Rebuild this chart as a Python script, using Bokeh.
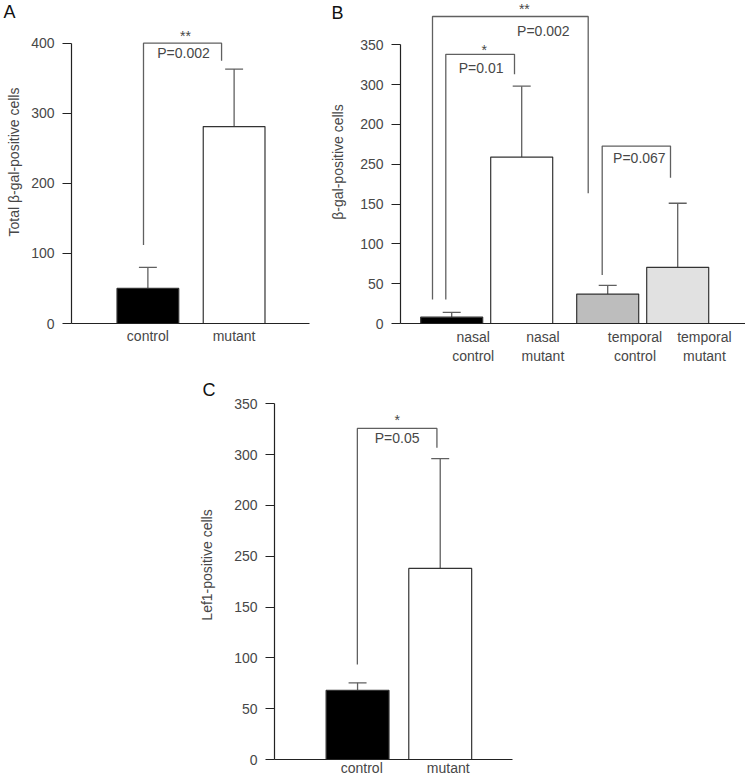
from bokeh.plotting import figure
from bokeh.models import Range1d, FixedTicker, Label, Spacer, LinearAxis
from bokeh.layouts import row, column
from bokeh.embed import file_html
from bokeh.resources import INLINE

# ---------------- data ----------------
A_CATEGORIES = ["control", "mutant"]
A_MEANS = [50, 281]
A_ERRORS = [30, 82]
A_Y_TICKS = [0, 100, 200, 300, 400]
A_Y_TICK_LABELS = ["0", "100", "200", "300", "400"]
A_Y_LABEL = "Total \u03b2-gal-positive cells"

B_CATEGORIES = ["nasal\ncontrol", "nasal\nmutant", "temporal\ncontrol", "temporal\nmutant"]
B_MEANS = [8, 209, 37, 70.5]
B_ERRORS = [6, 89, 11, 80.5]
B_Y_TICKS = [0, 50, 100, 150, 200, 250, 300, 350]
B_Y_TICK_LABELS = ["0", "50", "100", "150", "250", "200", "300", "350"]
B_Y_LABEL = "\u03b2-gal-positive cells"

C_CATEGORIES = ["control", "mutant"]
C_MEANS = [68, 188]
C_ERRORS = [7.5, 108]
C_Y_TICKS = [0, 50, 100, 150, 200, 250, 300, 350]
C_Y_TICK_LABELS = ["0", "50", "100", "150", "250", "200", "300", "350"]
C_Y_LABEL = "Lef1-positive cells"

# significance brackets: bars compared, leg bottoms, bracket top, texts and their heights
A_SIG_BARS = [(0, 1)]
A_SIG_LEGS = [(112, 375)]
A_SIG_TOP = [400]
A_SIG_STARS = ["**"]
A_SIG_P = ["P=0.002"]
A_SIG_TEXT_Y = [(410.6, 386)]

B_SIG_BARS = [(0, 2), (0, 1), (2, 3)]
B_SIG_LEGS = [(30, 163.5), (30, 313), (61, 183)]
B_SIG_TOP = [385.5, 338, 222.8]
B_SIG_STARS = ["**", "*", ""]
B_SIG_P = ["P=0.002", "P=0.01", "P=0.067"]
B_SIG_TEXT_Y = [(394.5, 366.7), (342.9, 320.7), (0, 208.1)]

C_SIG_BARS = [(0, 1)]
C_SIG_LEGS = [(93.5, 306.8)]
C_SIG_TOP = [325.8]
C_SIG_STARS = ["*"]
C_SIG_P = ["P=0.05"]
C_SIG_TEXT_Y = [(334.3, 316.4)]

# panel letters and the height (data units) of their centres
PANEL_LETTERS = ["A", "B", "C"]
LETTER_Y = [448.8, 395.6, 363.6]

# ---------------- layout / style ----------------
FONT = "Liberation Sans"
TXT = "#474747"
LINE = "#606060"
AXIS = "#222222"
EDGE = "#333333"
FS = "14px"
CAP = 18

A_FILL = ["#000000", "#ffffff"]
B_FILL = ["#000000", "#ffffff", "#bdbdbd", "#e1e1e1"]
C_FILL = ["#000000", "#ffffff"]

# x offsets (px) of category labels, bracket legs and texts relative to bars
A_LABEL_DX = [0, 0]
B_LABEL_DX = [21.5, 21.2, 27.3, 26.7]
C_LABEL_DX = [4.2, 8]
A_LEG_DX = [(-4.4, -12.6)]
A_TXT_DX = [(3, 1)]
B_LEG_DX = [(-19.2, -19.5), (-5.9, -7.2), (-5.5, -7.2)]
B_TXT_DX = [(14, 33), (4, 1), (0, 3)]
C_LEG_DX = [(-0.2, -3.3)]
C_TXT_DX = [(0, 0)]


def base_fig(width, height, borders, x_end, y_end):
    left, right, top, bottom = borders
    p = figure(width=width, height=height, x_range=Range1d(0, x_end),
               y_range=Range1d(0, y_end), output_backend="svg",
               toolbar_location=None, min_border_left=left,
               min_border_right=right, min_border_top=top,
               min_border_bottom=bottom, background_fill_color="white",
               border_fill_color="white")
    p.grid.visible = False
    p.outline_line_color = None
    return p


def style_axes(p, xs, cats, label_dx, yticks, ylabels, ylabel,
               y_label_standoff, x_label_standoff):
    ya = p.yaxis[0]
    ya.ticker = FixedTicker(ticks=yticks)
    ya.major_label_overrides = {t: l for t, l in zip(yticks, ylabels)}
    ya.bounds = (yticks[0], yticks[-1])
    ya.major_tick_out = 9
    ya.major_tick_in = 0
    ya.minor_tick_out = 0
    ya.minor_tick_in = 0
    ya.axis_line_color = AXIS
    ya.axis_line_width = 1.2
    ya.major_tick_line_color = AXIS
    ya.major_tick_line_width = 1.2
    ya.major_label_text_font = FONT
    ya.major_label_text_font_size = FS
    ya.major_label_text_color = TXT
    ya.major_label_standoff = 8
    ya.axis_label = ylabel
    ya.axis_label_text_font = FONT
    ya.axis_label_text_font_size = FS
    ya.axis_label_text_font_style = "normal"
    ya.axis_label_text_color = TXT
    ya.axis_label_standoff = y_label_standoff

    ticks = [round(x + d, 1) for x, d in zip(xs, label_dx)]
    xa = p.xaxis[0]
    xa.ticker = FixedTicker(ticks=ticks)
    xa.major_label_overrides = {t: c for t, c in zip(ticks, cats)}
    xa.major_tick_out = 0
    xa.major_tick_in = 0
    xa.minor_tick_out = 0
    xa.minor_tick_in = 0
    xa.axis_line_color = AXIS
    xa.axis_line_width = 1.2
    xa.major_label_text_font = FONT
    xa.major_label_text_font_size = FS
    xa.major_label_text_color = TXT
    xa.major_label_standoff = x_label_standoff


def panel_letter(p, letter, y, standoff):
    # an outer, line-less axis whose single tick label is the panel letter
    ax = LinearAxis(ticker=FixedTicker(ticks=[y]),
                    major_label_overrides={y: letter},
                    axis_line_color=None, major_tick_line_color=None,
                    minor_tick_line_color=None, major_tick_out=0,
                    major_tick_in=0, minor_tick_out=0, minor_tick_in=0,
                    major_label_standoff=standoff,
                    major_label_text_font=FONT,
                    major_label_text_font_size="18px",
                    major_label_text_color="#111111")
    p.add_layout(ax, "left")


def draw_bars(p, xs, means, errs, fills, bar_w):
    tops = [m + e for m, e in zip(means, errs)]
    p.segment(x0=xs, y0=means, x1=xs, y1=tops, line_color=LINE, line_width=1.3)
    p.segment(x0=[x - CAP / 2 for x in xs], y0=tops,
              x1=[x + CAP / 2 for x in xs], y1=tops,
              line_color=LINE, line_width=1.3)
    p.vbar(x=xs, top=means, bottom=0, width=bar_w, fill_color=fills,
           line_color=EDGE, line_width=1.2)


def draw_sig(p, xs, bars, legs, tops, stars, ptexts, text_y, leg_dx, txt_dx):
    for (i, j), (yl, yr), top, st, pt, (sy, py), (dl, dr), (ds, dp) in zip(
            bars, legs, tops, stars, ptexts, text_y, leg_dx, txt_dx):
        lx = xs[i] + dl
        rx = xs[j] + dr
        p.line(x=[lx, lx, rx, rx], y=[yl, top, top, yr], line_color=LINE,
               line_width=1.3)
        mid = (lx + rx) / 2
        if st:
            p.add_layout(Label(x=mid + ds, y=sy, text=st, text_align="center",
                               text_baseline="middle", text_font=FONT,
                               text_font_size=FS, text_color=TXT))
        p.add_layout(Label(x=mid + dp, y=py, text=pt, text_align="center",
                           text_baseline="middle", text_font=FONT,
                           text_font_size=FS, text_color=TXT))


# ---------------- panel A ----------------
A_X = [round(76.7 + 86.6 * i, 1) for i in range(len(A_CATEGORIES))]
pA = base_fig(320, 370, (70, 11, 0, 47), 239, 460.9)
style_axes(pA, A_X, A_CATEGORIES, A_LABEL_DX, A_Y_TICKS, A_Y_TICK_LABELS,
           A_Y_LABEL, 6, 4)
draw_bars(pA, A_X, A_MEANS, A_ERRORS, A_FILL, 62)
draw_sig(pA, A_X, A_SIG_BARS, A_SIG_LEGS, A_SIG_TOP, A_SIG_STARS, A_SIG_P,
         A_SIG_TEXT_Y, A_LEG_DX, A_TXT_DX)
panel_letter(pA, PANEL_LETTERS[0], LETTER_Y[0], -12)

# ---------------- panel B ----------------
B_X = [round(51.2 + 70 * i + 16 * (i // 2), 1) for i in range(len(B_CATEGORIES))]
pB = base_fig(425, 370, (80, 0, 0, 47), 345, 405.6)
style_axes(pB, B_X, B_CATEGORIES, B_LABEL_DX, B_Y_TICKS, B_Y_TICK_LABELS,
           B_Y_LABEL, 11, 5)
draw_bars(pB, B_X, B_MEANS, B_ERRORS, B_FILL, 62)
draw_sig(pB, B_X, B_SIG_BARS, B_SIG_LEGS, B_SIG_TOP, B_SIG_STARS, B_SIG_P,
         B_SIG_TEXT_Y, B_LEG_DX, B_TXT_DX)
panel_letter(pB, PANEL_LETTERS[1], LETTER_Y[1], -16)

# ---------------- panel C ----------------
C_X = [round(83.2 + 82.8 * i, 1) for i in range(len(C_CATEGORIES))]
pC = base_fig(350, 408, (84, 28, 0, 19), 238.4, 382.8)
style_axes(pC, C_X, C_CATEGORIES, C_LABEL_DX, C_Y_TICKS, C_Y_TICK_LABELS,
           C_Y_LABEL, 16, 0)
draw_bars(pC, C_X, C_MEANS, C_ERRORS, C_FILL, 63)
draw_sig(pC, C_X, C_SIG_BARS, C_SIG_LEGS, C_SIG_TOP, C_SIG_STARS, C_SIG_P,
         C_SIG_TEXT_Y, C_LEG_DX, C_TXT_DX)
panel_letter(pC, PANEL_LETTERS[2], LETTER_Y[2], -19)

layout = column(row(pA, pB), row(Spacer(width=190, height=408), pC))

open("out.html", "w").write(file_html(layout, INLINE))
